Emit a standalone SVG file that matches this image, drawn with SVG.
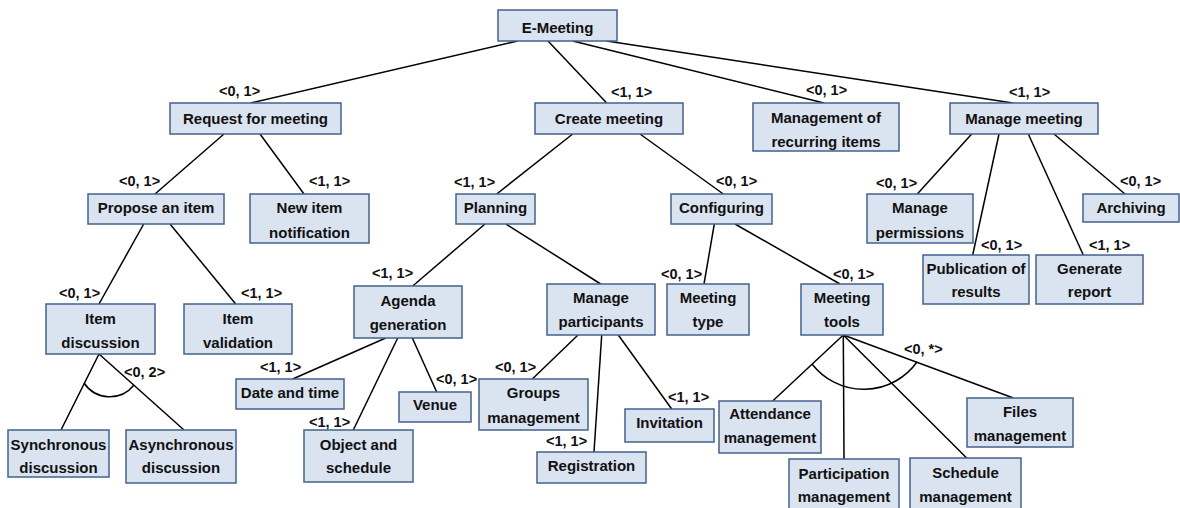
<svg xmlns="http://www.w3.org/2000/svg" width="1180" height="508" viewBox="0 0 1180 508">
  <style>
    .box { fill: #dae3f0; stroke: #44628c; stroke-width: 1.5; }
    .t { font-family: "Liberation Sans", Arial, sans-serif; font-weight: bold; font-size: 15px; fill: #111; text-anchor: middle; }
    .lbl { font-family: "Liberation Sans", Arial, sans-serif; font-weight: bold; font-size: 14.5px; fill: #111; }
    .edge { stroke: #000; stroke-width: 1.5; fill: none; }
  </style>
  <rect width="1180" height="508" fill="#fff"/>

  <!-- connectors -->
  <g id="connectors">
    <line class="edge" x1="517.7" y1="41" x2="250.7" y2="103"/>
    <line class="edge" x1="548" y1="41" x2="606.7" y2="103"/>
    <line class="edge" x1="572.7" y1="41" x2="824" y2="103"/>
    <line class="edge" x1="606.7" y1="41" x2="1013" y2="103"/>
    <line class="edge" x1="224" y1="134" x2="155" y2="194"/>
    <line class="edge" x1="260" y1="134" x2="304" y2="194"/>
    <line class="edge" x1="143.7" y1="224" x2="99" y2="304"/>
    <line class="edge" x1="170" y1="224" x2="235.7" y2="304"/>
    <line class="edge" x1="99" y1="354" x2="61" y2="430"/>
    <line class="edge" x1="99" y1="354" x2="184" y2="430"/>
    <path class="edge" d="M84,383 A31,31 0 0 0 134,385"/>
    <line class="edge" x1="572.7" y1="134" x2="496.7" y2="194"/>
    <line class="edge" x1="640" y1="134" x2="723.3" y2="194"/>
    <line class="edge" x1="485" y1="224" x2="412.7" y2="286"/>
    <line class="edge" x1="506" y1="224" x2="600.7" y2="284"/>
    <line class="edge" x1="714.3" y1="224" x2="704" y2="284"/>
    <line class="edge" x1="735" y1="224" x2="840" y2="284"/>
    <line class="edge" x1="971.7" y1="134" x2="917.3" y2="194"/>
    <line class="edge" x1="999" y1="134" x2="972.7" y2="255"/>
    <line class="edge" x1="1028.3" y1="134" x2="1083.3" y2="255"/>
    <line class="edge" x1="1054" y1="134" x2="1125" y2="194"/>
    <line class="edge" x1="385.7" y1="338" x2="292.7" y2="379"/>
    <line class="edge" x1="397.7" y1="338" x2="353.3" y2="430"/>
    <line class="edge" x1="412.3" y1="338" x2="436.7" y2="392"/>
    <line class="edge" x1="578" y1="335" x2="532.3" y2="379"/>
    <line class="edge" x1="601.7" y1="335" x2="594" y2="452"/>
    <line class="edge" x1="618.3" y1="335" x2="671.7" y2="409"/>
    <line class="edge" x1="843.3" y1="335" x2="772.7" y2="401"/>
    <line class="edge" x1="843.3" y1="335" x2="844" y2="459"/>
    <line class="edge" x1="843.3" y1="335" x2="966.7" y2="458"/>
    <line class="edge" x1="843.3" y1="335" x2="1013.3" y2="398"/>
    <path class="edge" d="M812,364 A65.5,65.5 0 0 0 917,362"/>
  </g>

  <!-- cardinality labels -->
  <g id="labels">
    <text class="lbl" x="219" y="96">&lt;0, 1&gt;</text>
    <text class="lbl" x="611" y="97">&lt;1, 1&gt;</text>
    <text class="lbl" x="806" y="95">&lt;0, 1&gt;</text>
    <text class="lbl" x="1009" y="97">&lt;1, 1&gt;</text>
    <text class="lbl" x="119" y="186">&lt;0, 1&gt;</text>
    <text class="lbl" x="309" y="186">&lt;1, 1&gt;</text>
    <text class="lbl" x="59" y="298">&lt;0, 1&gt;</text>
    <text class="lbl" x="241" y="298">&lt;1, 1&gt;</text>
    <text class="lbl" x="124" y="377">&lt;0, 2&gt;</text>
    <text class="lbl" x="454" y="187">&lt;1, 1&gt;</text>
    <text class="lbl" x="716" y="186">&lt;0, 1&gt;</text>
    <text class="lbl" x="372" y="277.5">&lt;1, 1&gt;</text>
    <text class="lbl" x="661" y="279">&lt;0, 1&gt;</text>
    <text class="lbl" x="833" y="279">&lt;0, 1&gt;</text>
    <text class="lbl" x="876" y="188">&lt;0, 1&gt;</text>
    <text class="lbl" x="1120" y="186">&lt;0, 1&gt;</text>
    <text class="lbl" x="981" y="250">&lt;0, 1&gt;</text>
    <text class="lbl" x="1089" y="250">&lt;1, 1&gt;</text>
    <text class="lbl" x="260" y="372">&lt;1, 1&gt;</text>
    <text class="lbl" x="436" y="384">&lt;0, 1&gt;</text>
    <text class="lbl" x="309" y="427">&lt;1, 1&gt;</text>
    <text class="lbl" x="495" y="372">&lt;0, 1&gt;</text>
    <text class="lbl" x="546" y="446">&lt;1, 1&gt;</text>
    <text class="lbl" x="668" y="402">&lt;1, 1&gt;</text>
    <text class="lbl" x="904" y="354">&lt;0, *&gt;</text>
  </g>

  <!-- nodes -->
  <g id="e-meeting"><rect class="box" x="498" y="10" width="119" height="31"/><text class="t" x="557.5" y="33">E-Meeting</text></g>
  <g id="request"><rect class="box" x="170" y="103" width="171" height="31"/><text class="t" x="255.5" y="123.5">Request for meeting</text></g>
  <g id="create"><rect class="box" x="535" y="103" width="148" height="31"/><text class="t" x="609" y="123.5">Create meeting</text></g>
  <g id="recurring"><rect class="box" x="753" y="103" width="146" height="48"/><text class="t" x="826" y="122.7">Management of</text><text class="t" x="826" y="146.7">recurring items</text></g>
  <g id="manage"><rect class="box" x="950" y="103" width="148" height="31"/><text class="t" x="1024" y="123.5">Manage meeting</text></g>
  <g id="propose"><rect class="box" x="88" y="194" width="136" height="30"/><text class="t" x="156" y="213">Propose an item</text></g>
  <g id="new-item"><rect class="box" x="250" y="194" width="119" height="49"/><text class="t" x="309.5" y="213.3">New item</text><text class="t" x="309.5" y="237.7">notification</text></g>
  <g id="planning"><rect class="box" x="456" y="194" width="79" height="30"/><text class="t" x="495.5" y="213.3">Planning</text></g>
  <g id="configuring"><rect class="box" x="671" y="194" width="101" height="30"/><text class="t" x="721.5" y="213.3">Configuring</text></g>
  <g id="permissions"><rect class="box" x="867" y="194" width="106" height="49"/><text class="t" x="920" y="213.3">Manage</text><text class="t" x="920" y="237.7">permissions</text></g>
  <g id="archiving"><rect class="box" x="1083" y="194" width="96" height="28"/><text class="t" x="1131" y="212.7">Archiving</text></g>
  <g id="publication"><rect class="box" x="923" y="255" width="106" height="49"/><text class="t" x="976" y="274">Publication of</text><text class="t" x="976" y="297.3">results</text></g>
  <g id="report"><rect class="box" x="1036" y="255" width="107" height="49"/><text class="t" x="1089.5" y="274">Generate</text><text class="t" x="1089.5" y="297.3">report</text></g>
  <g id="item-discussion"><rect class="box" x="46" y="304" width="109" height="50"/><text class="t" x="100.5" y="324">Item</text><text class="t" x="100.5" y="348.3">discussion</text></g>
  <g id="item-validation"><rect class="box" x="184" y="304" width="108" height="50"/><text class="t" x="238" y="324">Item</text><text class="t" x="238" y="348.3">validation</text></g>
  <g id="agenda"><rect class="box" x="354" y="286" width="108" height="52"/><text class="t" x="408" y="306">Agenda</text><text class="t" x="408" y="329.5">generation</text></g>
  <g id="participants"><rect class="box" x="547" y="284" width="108" height="51"/><text class="t" x="601" y="302.7">Manage</text><text class="t" x="601" y="326.7">participants</text></g>
  <g id="meeting-type"><rect class="box" x="667" y="284" width="82" height="51"/><text class="t" x="708" y="302.7">Meeting</text><text class="t" x="708" y="326.7">type</text></g>
  <g id="meeting-tools"><rect class="box" x="801" y="284" width="82" height="51"/><text class="t" x="842" y="302.7">Meeting</text><text class="t" x="842" y="326.7">tools</text></g>
  <g id="sync"><rect class="box" x="8" y="430" width="101" height="47"/><text class="t" x="58.5" y="450">Synchronous</text><text class="t" x="58.5" y="472.7">discussion</text></g>
  <g id="async"><rect class="box" x="126" y="430" width="110" height="53"/><text class="t" x="181" y="450">Asynchronous</text><text class="t" x="181" y="472.7">discussion</text></g>
  <g id="date-time"><rect class="box" x="236" y="379" width="108" height="30"/><text class="t" x="290" y="398.3">Date and time</text></g>
  <g id="venue"><rect class="box" x="399" y="392" width="72" height="30"/><text class="t" x="435" y="410">Venue</text></g>
  <g id="object"><rect class="box" x="304" y="430" width="109" height="52"/><text class="t" x="358.5" y="450">Object and</text><text class="t" x="358.5" y="472.7">schedule</text></g>
  <g id="groups"><rect class="box" x="479" y="379" width="109" height="51"/><text class="t" x="533.5" y="398.3">Groups</text><text class="t" x="533.5" y="422.7">management</text></g>
  <g id="registration"><rect class="box" x="537" y="452" width="109" height="31"/><text class="t" x="591.5" y="470.7">Registration</text></g>
  <g id="invitation"><rect class="box" x="625" y="409" width="89" height="33"/><text class="t" x="669.5" y="428.3">Invitation</text></g>
  <g id="attendance"><rect class="box" x="719" y="401" width="102" height="52"/><text class="t" x="770" y="419.3">Attendance</text><text class="t" x="770" y="443.3">management</text></g>
  <g id="participation"><rect class="box" x="789" y="459" width="110" height="53"/><text class="t" x="844" y="478.7">Participation</text><text class="t" x="844" y="502.3">management</text></g>
  <g id="schedule"><rect class="box" x="910" y="458" width="111" height="54"/><text class="t" x="965.5" y="477.7">Schedule</text><text class="t" x="965.5" y="501.7">management</text></g>
  <g id="files"><rect class="box" x="967" y="398" width="106" height="49"/><text class="t" x="1020" y="417.3">Files</text><text class="t" x="1020" y="441">management</text></g>
</svg>
